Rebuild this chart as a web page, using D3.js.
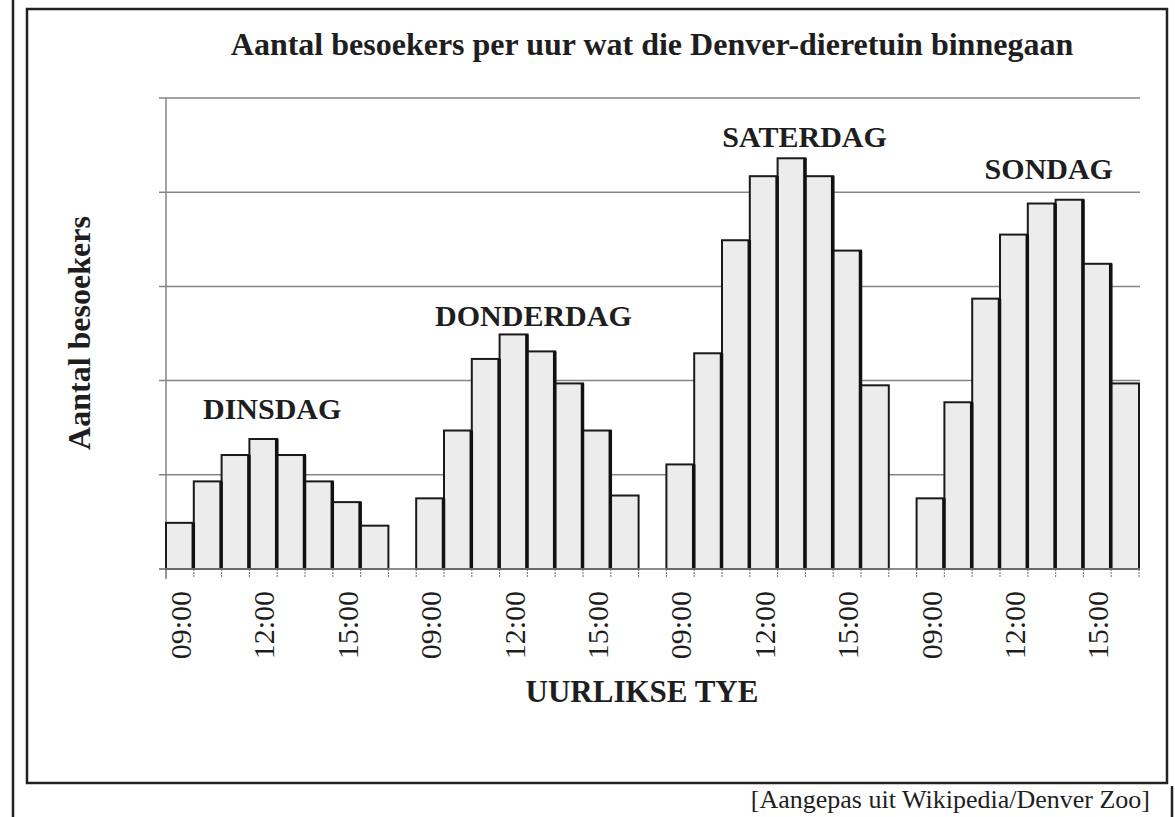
<!DOCTYPE html>
<html>
<head>
<meta charset="utf-8">
<script src="https://cdn.jsdelivr.net/npm/d3@7/dist/d3.min.js"></script>
<style>
  html, body { margin: 0; padding: 0; background: #fff; }
  svg { display: block; }
  text { font-family: "Liberation Serif", "Times New Roman", serif; fill: #1e1e1e; }
</style>
</head>
<body>
<svg id="chart" width="1175" height="817"></svg>
<script>
// ---- data ----
const days = ["DINSDAG", "DONDERDAG", "SATERDAG", "SONDAG"];
const hours = ["09:00", "10:00", "11:00", "12:00", "13:00", "14:00", "15:00", "16:00"];
const tickLabels = ["09:00", "12:00", "15:00"];
const dinsdag   = [49, 93, 121, 138, 121, 93, 71, 46];
const donderdag = [75, 147, 223, 249, 231, 197, 147, 78];
const saterdag  = [111, 229, 349, 417, 436, 417, 338, 195];
const sondag    = [75, 177, 287, 355, 388, 392, 324, 197];
const yTicks = [0, 100, 200, 300, 400, 500];
const title = "Aantal besoekers per uur wat die Denver-dieretuin binnegaan";
const yTitle = "Aantal besoekers";
const xTitle = "UURLIKSE TYE";
const source = "[Aangepas uit Wikipedia/Denver Zoo]";

const series = [dinsdag, donderdag, saterdag, sondag];

(function () {
// ---- layout ----
const svg = d3.select("#chart");
const pLeft = 166, pRight = 1139, pTop = 98, pBottom = 569;

// slot domain: 8 hours per day with one empty slot between days
const slots = [];
days.forEach((d, i) => {
  hours.forEach(h => slots.push(d + "|" + h));
  if (i < days.length - 1) slots.push("gap" + i);
});

const x = d3.scaleBand().domain(slots).range([pLeft, pRight]).padding(0);
const y = d3.scaleLinear().domain([0, 500]).range([pBottom, pTop]);

const bars = [];
days.forEach((d, i) => hours.forEach((h, j) => bars.push({ day: d, hour: h, value: series[i][j], last: j === hours.length - 1 })));

// frame
svg.append("rect").attr("x", 27).attr("y", 9).attr("width", 1140).attr("height", 774)
  .attr("fill", "none").attr("stroke", "#222").attr("stroke-width", 2.5);
svg.append("line").attr("x1", 13).attr("x2", 13).attr("y1", 0).attr("y2", 817)
  .attr("stroke", "#222").attr("stroke-width", 2.5);
svg.append("line").attr("x1", 1172).attr("x2", 1172).attr("y1", 786).attr("y2", 817)
  .attr("stroke", "#222").attr("stroke-width", 2.5);

// gridlines + left ticks
svg.append("g").selectAll("line").data(yTicks).join("line")
  .attr("x1", pLeft - 7).attr("x2", pRight + 1)
  .attr("y1", d => y(d)).attr("y2", d => y(d))
  .attr("stroke", "#858585").attr("stroke-width", 1.5);
// y axis line
svg.append("line").attr("x1", pLeft).attr("x2", pLeft).attr("y1", pTop).attr("y2", pBottom + 10)
  .attr("stroke", "#858585").attr("stroke-width", 1.5);

// bottom ticks at every slot boundary
const bounds = slots.map(s => x(s)).concat([x(slots[slots.length - 1]) + x.bandwidth()]);
svg.append("g").selectAll("line").data(bounds).join("line")
  .attr("x1", d => d).attr("x2", d => d).attr("y1", pBottom).attr("y2", pBottom + 9)
  .attr("stroke", "#858585").attr("stroke-width", 1.2).attr("stroke-dasharray", "2,1");

// bars
const bw = x.bandwidth();
const gb = svg.append("g");
gb.selectAll("rect").data(bars).join("rect")
  .attr("x", d => x(d.day + "|" + d.hour))
  .attr("y", d => y(d.value))
  .attr("width", bw)
  .attr("height", d => y(0) - y(d.value))
  .attr("fill", "#ececec").attr("stroke", "#1a1a1a").attr("stroke-width", 2);
// darker right edges (shadow look)
gb.selectAll("line").data(bars.filter(d => !d.last)).join("line")
  .attr("x1", d => x(d.day + "|" + d.hour) + bw - 0.5)
  .attr("x2", d => x(d.day + "|" + d.hour) + bw - 0.5)
  .attr("y1", d => y(d.value)).attr("y2", y(0))
  .attr("stroke", "#111").attr("stroke-width", 3.5);

// baseline
svg.append("line").attr("x1", pLeft - 7).attr("x2", pRight + 1).attr("y1", pBottom).attr("y2", pBottom)
  .attr("stroke", "#858585").attr("stroke-width", 1.5);

// x tick labels
const tl = [];
days.forEach(d => tickLabels.forEach(t => tl.push({ key: d + "|" + t, label: t })));
svg.append("g").selectAll("text").data(tl).join("text")
  .attr("transform", d => `translate(${x(d.key) + bw / 2 + 11},${pBottom + 22}) rotate(-90)`)
  .attr("text-anchor", "end").attr("font-size", 30)
  .text(d => d.label);

// day labels
const dayDx = [-5, 6, 27, 21];
const dayDy = [20, 8, 11, 21];
svg.append("g").selectAll("text").data(days).join("text")
  .attr("x", (d, i) => x(d + "|" + hours[0]) + 4 * bw + dayDx[i])
  .attr("y", (d, i) => y(d3.max(series[i])) - dayDy[i])
  .attr("text-anchor", "middle").attr("font-size", 30).attr("font-weight", "bold")
  .text(d => d);

// titles
svg.append("text").attr("x", 652).attr("y", 55).attr("text-anchor", "middle")
  .attr("font-size", 32).attr("font-weight", "bold").text(title);
svg.append("text").attr("transform", "translate(90,333) rotate(-90)").attr("text-anchor", "middle")
  .attr("font-size", 32).attr("font-weight", "bold").text(yTitle);
svg.append("text").attr("x", 642).attr("y", 702).attr("text-anchor", "middle")
  .attr("font-size", 31).attr("font-weight", "bold").text(xTitle);
svg.append("text").attr("x", 1150).attr("y", 808).attr("text-anchor", "end")
  .attr("font-size", 26).text(source);
})();
</script>
</body>
</html>
